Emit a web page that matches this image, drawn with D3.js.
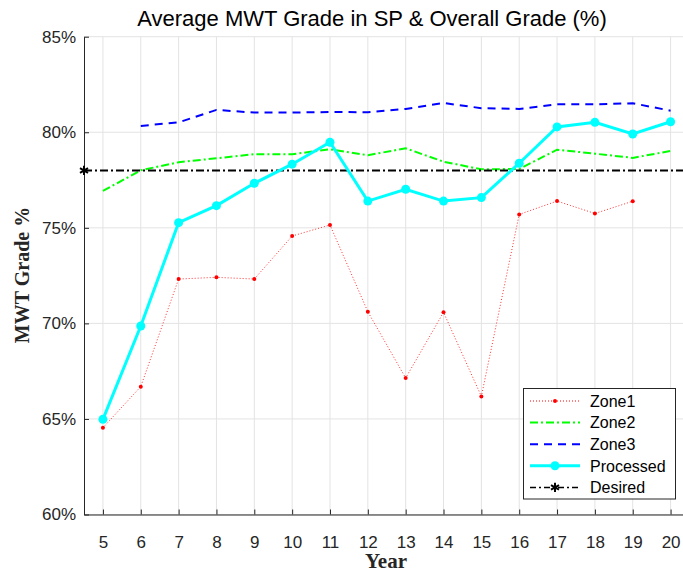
<!DOCTYPE html>
<html>
<head>
<meta charset="utf-8">
<script src="https://cdn.jsdelivr.net/npm/d3@7"></script>
<style>
  body { margin: 0; background: #fff; }
  svg { display: block; font-family: "Liberation Sans", Arial, sans-serif; }
</style>
</head>
<body>
<svg id="chart"></svg>
<script>
const years = [5, 6, 7, 8, 9, 10, 11, 12, 13, 14, 15, 16, 17, 18, 19, 20];
const zone1 = [64.54, 66.69, 72.32, 72.41, 72.32, 74.57, 75.15, 70.61, 67.14, 70.58, 66.18, 75.7, 76.4, 75.75, 76.39, null];
const zone2 = [76.93, 78.01, 78.43, 78.64, 78.85, 78.85, 79.11, 78.8, 79.16, 78.46, 78.06, 78.08, 79.09, 78.88, 78.66, 79.02];
const zone3 = [null, 80.33, 80.52, 81.17, 81.03, 81.03, 81.06, 81.05, 81.22, 81.53, 81.26, 81.22, 81.46, 81.46, 81.52, 81.13];
const processed = [64.98, 69.86, 75.27, 76.16, 77.33, 78.33, 79.48, 76.4, 77.02, 76.4, 76.58, 78.38, 80.28, 80.52, 79.91, 80.55];
const desiredYears = [4.5, 20.5];
const desired = [78, 78];
const yTicks = [60, 65, 70, 75, 80, 85];
const legendLabels = ["Zone1", "Zone2", "Zone3", "Processed", "Desired"];

const W = 683, H = 574;
const svg = d3.select("#chart").attr("width", W).attr("height", H);

const x = d3.scaleLinear().domain([4.5, 20.5]).range([84, 689.5]);
const y = d3.scaleLinear().domain([60, 85]).range([514.5, 36.7]);

// grid
svg.append("g").selectAll("line").data(years).join("line")
    .attr("x1", d => x(d)).attr("x2", d => x(d))
    .attr("y1", y(60)).attr("y2", y(85))
    .attr("stroke", "#e3e3e3").attr("stroke-width", 1);
svg.append("g").selectAll("line").data(yTicks).join("line")
    .attr("x1", x(4.5)).attr("x2", x(20.5))
    .attr("y1", d => y(d)).attr("y2", d => y(d))
    .attr("stroke", "#e3e3e3").attr("stroke-width", 1);

// axes (ticks inside, like matlab)
const xAxis = svg.append("g")
    .attr("transform", `translate(0,${y(60)})`)
    .call(d3.axisBottom(x).tickValues(years).tickFormat(d3.format("d")).tickSizeInner(-5).tickSizeOuter(0).tickPadding(21));
const yAxis = svg.append("g")
    .attr("transform", `translate(${x(4.5)},0)`)
    .call(d3.axisLeft(y).tickValues(yTicks).tickFormat(d => d + "%").tickSizeInner(-5).tickSizeOuter(0).tickPadding(8));
[xAxis, yAxis].forEach(a => {
    a.select(".domain").attr("stroke", "#262626").attr("stroke-width", 1);
    a.selectAll(".tick line").attr("stroke", "#262626");
    a.selectAll(".tick text").attr("fill", "#262626").style("font-size", "17px")
        .style("font-family", "'Liberation Sans', Arial, sans-serif");
});

const line = d3.line()
    .defined(d => d[1] != null)
    .x(d => x(d[0])).y(d => y(d[1]));
const pts = arr => years.map((yr, i) => [yr, arr[i]]);

// Zone1
svg.append("path").datum(pts(zone1)).attr("d", line)
    .attr("fill", "none").attr("stroke", "#ff0000").attr("stroke-width", 1)
    .attr("stroke-dasharray", "1,2").attr("stroke-opacity", 0.8);
svg.append("g").selectAll("circle").data(pts(zone1).filter(d => d[1] != null)).join("circle")
    .attr("cx", d => x(d[0])).attr("cy", d => y(d[1])).attr("r", 2).attr("fill", "#ff0000");

// Zone2
svg.append("path").datum(pts(zone2)).attr("d", line)
    .attr("fill", "none").attr("stroke", "#00ff00").attr("stroke-width", 2)
    .attr("stroke-dasharray", "8,3,2,3");

// Zone3
svg.append("path").datum(pts(zone3)).attr("d", line)
    .attr("fill", "none").attr("stroke", "#0000ff").attr("stroke-width", 2)
    .attr("stroke-dasharray", "8,6");

// Desired
const desPts = desiredYears.map((yr, i) => [yr, desired[i]]);
svg.append("path").datum(desPts).attr("d", line)
    .attr("fill", "none").attr("stroke", "#000").attr("stroke-width", 2)
    .attr("stroke-dasharray", "8,3,2,3");
const star = d3.symbol().type(d3.symbolAsterisk).size(60);
svg.append("g").selectAll("path").data(desPts).join("path")
    .attr("d", star).attr("transform", d => `translate(${x(d[0])},${y(d[1])})`)
    .attr("stroke", "#000").attr("stroke-width", 2).attr("fill", "none");

// Processed
svg.append("path").datum(pts(processed)).attr("d", line)
    .attr("fill", "none").attr("stroke", "#00ffff").attr("stroke-width", 3);
svg.append("g").selectAll("circle").data(pts(processed)).join("circle")
    .attr("cx", d => x(d[0])).attr("cy", d => y(d[1])).attr("r", 4.5).attr("fill", "#00ffff");

// title and labels
svg.append("text").attr("x", 372).attr("y", 26).attr("text-anchor", "middle")
    .style("font-size", "22px").attr("fill", "#000")
    .text("Average MWT Grade in SP & Overall Grade (%)");
svg.append("text").attr("x", 386).attr("y", 568).attr("text-anchor", "middle")
    .style("font-family", "'Liberation Serif', 'Times New Roman', serif")
    .style("font-size", "21px").style("font-weight", "bold").attr("fill", "#262626")
    .text("Year");
svg.append("text").attr("transform", "translate(29,275) rotate(-90)").attr("text-anchor", "middle")
    .style("font-family", "'Liberation Serif', 'Times New Roman', serif")
    .style("font-size", "20px").style("font-weight", "bold").attr("fill", "#262626")
    .text("MWT Grade %");

// legend
const lg = svg.append("g");
lg.append("rect").attr("x", 523.5).attr("y", 388.5).attr("width", 152).attr("height", 110.5)
    .attr("fill", "#fff").attr("stroke", "#262626").attr("stroke-width", 1);
const styles = [
    { c: "#ff0000", w: 1, dash: "1,2", mk: "dot" },
    { c: "#00ff00", w: 2, dash: "8,3,2,3" },
    { c: "#0000ff", w: 2, dash: "8,6" },
    { c: "#00ffff", w: 3, dash: null, mk: "big" },
    { c: "#000", w: 1.5, dash: "6,3,2,3", mk: "star" }
];
legendLabels.forEach((lab, i) => {
    const ly = 401 + i * 21.6;
    const s = styles[i];
    lg.append("line").attr("x1", 530).attr("x2", 580).attr("y1", ly).attr("y2", ly)
        .attr("stroke", s.c).attr("stroke-width", s.w).attr("stroke-dasharray", s.dash);
    if (s.mk === "dot") lg.append("circle").attr("cx", 555).attr("cy", ly).attr("r", 2).attr("fill", s.c);
    if (s.mk === "big") lg.append("circle").attr("cx", 555).attr("cy", ly).attr("r", 4.5).attr("fill", s.c);
    if (s.mk === "star") lg.append("path").attr("d", star).attr("transform", `translate(555,${ly})`)
        .attr("stroke", "#000").attr("stroke-width", 2);
    lg.append("text").attr("x", 590).attr("y", ly).attr("dy", "0.36em")
        .style("font-size", "16px").attr("fill", "#000").text(lab);
});
</script>
</body>
</html>
